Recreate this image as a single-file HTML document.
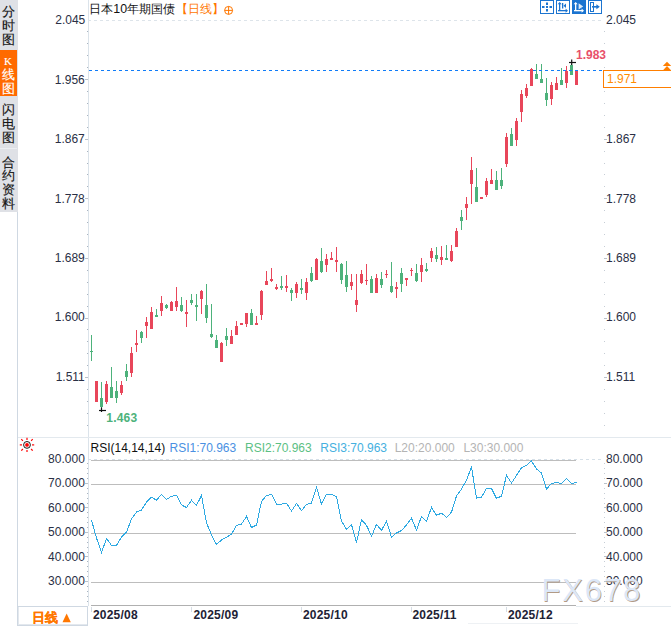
<!DOCTYPE html>
<html><head><meta charset="utf-8">
<style>
html,body{margin:0;padding:0;background:#fff;}
body{width:671px;height:626px;overflow:hidden;position:relative;font-family:"Liberation Sans",sans-serif;}
#side{position:absolute;left:0;top:0;width:17.5px;height:212px;background:#dfe1e6;}
.ch{position:absolute;left:0;width:16px;height:13px;font-size:13px;line-height:13px;text-align:center;-webkit-text-stroke:0.15px currentColor;}
svg{position:absolute;left:0;top:0;}
</style></head>
<body>
<div id="side">
<div style="position:absolute;left:0;top:50px;width:17px;height:46px;background:#ff6a00;"></div>
<div style="position:absolute;left:0;top:148px;width:17px;height:1px;background:#eceef2;"></div>
<span class="ch" style="top:5.25px;color:#151515">分</span>
<span class="ch" style="top:19.00px;color:#151515">时</span>
<span class="ch" style="top:33.40px;color:#151515">图</span>
<span class="ch" style="top:67.80px;color:#fff">线</span>
<span class="ch" style="top:82.00px;color:#fff">图</span>
<span class="ch" style="top:103.25px;color:#151515">闪</span>
<span class="ch" style="top:117.10px;color:#151515">电</span>
<span class="ch" style="top:130.65px;color:#151515">图</span>
<span class="ch" style="top:155.85px;color:#151515">合</span>
<span class="ch" style="top:169.35px;color:#151515">约</span>
<span class="ch" style="top:182.75px;color:#151515">资</span>
<span class="ch" style="top:196.75px;color:#151515">料</span>
<span class="ch" style="top:54.5px;color:#fff;font-family:'Liberation Serif',serif;font-size:11px;">K</span>
</div>
<svg width="671" height="626" viewBox="0 0 671 626" font-family="Liberation Sans, sans-serif">
  <!-- left border of panels -->
  <rect x="17" y="212" width="1" height="414" fill="#cfd8e2"/>
  <rect x="18" y="606" width="1" height="20" fill="#e3e8ee"/>
  <rect x="18" y="624" width="70" height="1" fill="#e3e8ee"/>
  <!-- left axis line -->
  <rect x="88" y="0" width="1" height="606" fill="#dbe3ea"/>
  <!-- main/RSI separator -->
  <rect x="18" y="437" width="653" height="1" fill="#e3e9ee"/>

  <!-- main title -->
  <text x="89.3" y="12.6" font-size="12.4" fill="#111">日本10年期国债</text>
  <text x="175.5" y="13" font-size="12" fill="#ff7700">【日线】</text>
  <g stroke="#ff7700" stroke-width="1" fill="none">
    <circle cx="228.6" cy="10.4" r="4"/>
    <line x1="224.6" y1="10.4" x2="232.6" y2="10.4"/>
    <line x1="228.6" y1="6.4" x2="228.6" y2="14.4"/>
  </g>

  <!-- toolbar icons -->
  <g fill="none" stroke="#1b74d0" stroke-width="1">
    <rect x="540.5" y="0.5" width="13" height="13"/>
    <rect x="556.5" y="0.5" width="13" height="13"/>
    <rect x="588.5" y="0.5" width="13" height="13"/>
  </g>
  <rect x="572" y="0" width="14" height="14" fill="#1b74d0"/>
  <!-- icon1 crosshair -->
  <g fill="#1b74d0">
    <rect x="546" y="2.5" width="2" height="2.5"/>
    <rect x="546" y="9" width="2" height="2.5"/>
    <rect x="542" y="6" width="2.5" height="2"/>
    <rect x="549.5" y="6" width="2.5" height="2"/>
    <rect x="546" y="6" width="2" height="2"/>
  </g>
  <!-- icon2 -->
  <g fill="#1b74d0">
    <rect x="559" y="3" width="1.3" height="8"/>
    <path d="M557.6 4.2 L559.65 2 L561.7 4.2 Z"/>
    <rect x="558" y="10" width="8" height="1.3"/>
    <path d="M565.6 8.6 L568 10.65 L565.6 12.7 Z"/>
    <rect x="562" y="3" width="1.3" height="5.5"/>
    <path d="M566 3.5 L563.5 5.75 L566 8 Z"/>
  </g>
  <!-- icon3 -->
  <g fill="#fff">
    <rect x="575" y="3" width="1.3" height="8"/>
    <path d="M573.6 4.2 L575.65 2 L577.7 4.2 Z"/>
    <rect x="574" y="10" width="8" height="1.3"/>
    <path d="M581.6 8.6 L584 10.65 L581.6 12.7 Z"/>
    <path d="M578.6 3.2 L583.2 6.4 L578.6 9.6 Z" fill-opacity="0.85"/>
  </g>
  <!-- icon4 -->
  <g fill="none" stroke="#1b74d0" stroke-width="1">
    <rect x="590.5" y="2.5" width="3" height="9"/>
  </g>
  <g fill="#1b74d0">
    <rect x="592" y="6" width="5" height="1.6"/>
    <path d="M596.4 4.3 L599.8 6.8 L596.4 9.3 Z"/>
  </g>

  <!-- main chart grid -->
  <line x1="88" y1="20.5" x2="603" y2="20.5" stroke="#dde4ea" stroke-width="1" stroke-dasharray="3,3"/>

  <!-- left axis labels -->
  <g font-size="12" fill="#2a2f45" text-anchor="end" transform="translate(0.8,0)">
    <text x="84.5" y="23.6">2.045</text>
    <text x="84" y="83.8">1.956</text>
    <text x="84" y="143.2">1.867</text>
    <text x="84" y="202.5">1.778</text>
    <text x="84" y="261.9">1.689</text>
    <text x="84" y="321.2">1.600</text>
    <text x="84" y="380.6">1.511</text>
  </g>
  <g font-size="12" fill="#2a2f45">
    <text x="606" y="23.6">2.045</text>
    <text x="606" y="143.2">1.867</text>
    <text x="606" y="202.5">1.778</text>
    <text x="606" y="261.9">1.689</text>
    <text x="606" y="321.2">1.600</text>
    <text x="606" y="380.6">1.511</text>
  </g>
  <rect x="87" y="31" width="1" height="1" fill="#a9b3bf"/>
<rect x="604" y="31" width="1" height="1" fill="#c6cdd5"/>
<rect x="87" y="43" width="1" height="1" fill="#a9b3bf"/>
<rect x="604" y="43" width="1" height="1" fill="#c6cdd5"/>
<rect x="87" y="55" width="1" height="1" fill="#a9b3bf"/>
<rect x="604" y="55" width="1" height="1" fill="#c6cdd5"/>
<rect x="87" y="67" width="1" height="1" fill="#a9b3bf"/>
<rect x="604" y="67" width="1" height="1" fill="#c6cdd5"/>
<rect x="85" y="79" width="3" height="1" fill="#b9c1c9"/>
<rect x="604" y="79" width="3" height="1" fill="#b9c1c9"/>
<rect x="87" y="91" width="1" height="1" fill="#a9b3bf"/>
<rect x="604" y="91" width="1" height="1" fill="#c6cdd5"/>
<rect x="87" y="103" width="1" height="1" fill="#a9b3bf"/>
<rect x="604" y="103" width="1" height="1" fill="#c6cdd5"/>
<rect x="87" y="115" width="1" height="1" fill="#a9b3bf"/>
<rect x="604" y="115" width="1" height="1" fill="#c6cdd5"/>
<rect x="87" y="127" width="1" height="1" fill="#a9b3bf"/>
<rect x="604" y="127" width="1" height="1" fill="#c6cdd5"/>
<rect x="85" y="139" width="3" height="1" fill="#b9c1c9"/>
<rect x="604" y="139" width="3" height="1" fill="#b9c1c9"/>
<rect x="87" y="151" width="1" height="1" fill="#a9b3bf"/>
<rect x="604" y="151" width="1" height="1" fill="#c6cdd5"/>
<rect x="87" y="163" width="1" height="1" fill="#a9b3bf"/>
<rect x="604" y="163" width="1" height="1" fill="#c6cdd5"/>
<rect x="87" y="174" width="1" height="1" fill="#a9b3bf"/>
<rect x="604" y="174" width="1" height="1" fill="#c6cdd5"/>
<rect x="87" y="186" width="1" height="1" fill="#a9b3bf"/>
<rect x="604" y="186" width="1" height="1" fill="#c6cdd5"/>
<rect x="85" y="198" width="3" height="1" fill="#b9c1c9"/>
<rect x="604" y="198" width="3" height="1" fill="#b9c1c9"/>
<rect x="87" y="210" width="1" height="1" fill="#a9b3bf"/>
<rect x="604" y="210" width="1" height="1" fill="#c6cdd5"/>
<rect x="87" y="222" width="1" height="1" fill="#a9b3bf"/>
<rect x="604" y="222" width="1" height="1" fill="#c6cdd5"/>
<rect x="87" y="234" width="1" height="1" fill="#a9b3bf"/>
<rect x="604" y="234" width="1" height="1" fill="#c6cdd5"/>
<rect x="87" y="246" width="1" height="1" fill="#a9b3bf"/>
<rect x="604" y="246" width="1" height="1" fill="#c6cdd5"/>
<rect x="85" y="258" width="3" height="1" fill="#b9c1c9"/>
<rect x="604" y="258" width="3" height="1" fill="#b9c1c9"/>
<rect x="87" y="270" width="1" height="1" fill="#a9b3bf"/>
<rect x="604" y="270" width="1" height="1" fill="#c6cdd5"/>
<rect x="87" y="282" width="1" height="1" fill="#a9b3bf"/>
<rect x="604" y="282" width="1" height="1" fill="#c6cdd5"/>
<rect x="87" y="294" width="1" height="1" fill="#a9b3bf"/>
<rect x="604" y="294" width="1" height="1" fill="#c6cdd5"/>
<rect x="87" y="306" width="1" height="1" fill="#a9b3bf"/>
<rect x="604" y="306" width="1" height="1" fill="#c6cdd5"/>
<rect x="85" y="318" width="3" height="1" fill="#b9c1c9"/>
<rect x="604" y="318" width="3" height="1" fill="#b9c1c9"/>
<rect x="87" y="329" width="1" height="1" fill="#a9b3bf"/>
<rect x="604" y="329" width="1" height="1" fill="#c6cdd5"/>
<rect x="87" y="341" width="1" height="1" fill="#a9b3bf"/>
<rect x="604" y="341" width="1" height="1" fill="#c6cdd5"/>
<rect x="87" y="353" width="1" height="1" fill="#a9b3bf"/>
<rect x="604" y="353" width="1" height="1" fill="#c6cdd5"/>
<rect x="87" y="365" width="1" height="1" fill="#a9b3bf"/>
<rect x="604" y="365" width="1" height="1" fill="#c6cdd5"/>
<rect x="85" y="377" width="3" height="1" fill="#b9c1c9"/>
<rect x="604" y="377" width="3" height="1" fill="#b9c1c9"/>
<rect x="87" y="389" width="1" height="1" fill="#a9b3bf"/>
<rect x="604" y="389" width="1" height="1" fill="#c6cdd5"/>
<rect x="87" y="401" width="1" height="1" fill="#a9b3bf"/>
<rect x="604" y="401" width="1" height="1" fill="#c6cdd5"/>
<rect x="87" y="413" width="1" height="1" fill="#a9b3bf"/>
<rect x="604" y="413" width="1" height="1" fill="#c6cdd5"/>
<rect x="87" y="425" width="1" height="1" fill="#a9b3bf"/>
<rect x="604" y="425" width="1" height="1" fill="#c6cdd5"/>

  <!-- candles -->
  <g shape-rendering="crispEdges">
<rect x="91" y="335" width="1" height="26" fill="#4db27b"/>
<rect x="90" y="351" width="3" height="1" fill="#4db27b"/>
<rect x="96" y="381" width="1" height="21" fill="#e8465a"/>
<rect x="95" y="381" width="3" height="21" fill="#e8465a"/>
<rect x="101" y="382" width="1" height="26" fill="#4db27b"/>
<rect x="100" y="398" width="3" height="9" fill="#4db27b"/>
<rect x="106" y="381" width="1" height="23" fill="#e8465a"/>
<rect x="105" y="384" width="3" height="18" fill="#e8465a"/>
<rect x="111" y="367" width="1" height="31" fill="#4db27b"/>
<rect x="110" y="387" width="3" height="11" fill="#4db27b"/>
<rect x="116" y="381" width="1" height="22" fill="#4db27b"/>
<rect x="115" y="391" width="3" height="7" fill="#4db27b"/>
<rect x="121" y="381" width="1" height="14" fill="#e8465a"/>
<rect x="120" y="385" width="3" height="8" fill="#e8465a"/>
<rect x="126" y="364" width="1" height="17" fill="#4db27b"/>
<rect x="125" y="371" width="3" height="6" fill="#4db27b"/>
<rect x="131" y="347" width="1" height="30" fill="#e8465a"/>
<rect x="130" y="353" width="3" height="20" fill="#e8465a"/>
<rect x="136" y="330" width="1" height="22" fill="#e8465a"/>
<rect x="135" y="343" width="3" height="2" fill="#e8465a"/>
<rect x="141" y="331" width="1" height="12" fill="#4db27b"/>
<rect x="140" y="332" width="3" height="6" fill="#4db27b"/>
<rect x="146" y="317" width="1" height="21" fill="#e8465a"/>
<rect x="145" y="322" width="3" height="4" fill="#e8465a"/>
<rect x="151" y="307" width="1" height="22" fill="#e8465a"/>
<rect x="150" y="312" width="3" height="17" fill="#e8465a"/>
<rect x="156" y="309" width="1" height="8" fill="#4db27b"/>
<rect x="155" y="315" width="3" height="2" fill="#4db27b"/>
<rect x="161" y="296" width="1" height="20" fill="#e8465a"/>
<rect x="160" y="303" width="3" height="8" fill="#e8465a"/>
<rect x="166" y="304" width="1" height="5" fill="#4db27b"/>
<rect x="165" y="305" width="3" height="3" fill="#4db27b"/>
<rect x="171" y="301" width="1" height="10" fill="#e8465a"/>
<rect x="170" y="302" width="3" height="9" fill="#e8465a"/>
<rect x="176" y="287" width="1" height="24" fill="#e8465a"/>
<rect x="175" y="301" width="3" height="6" fill="#e8465a"/>
<rect x="181" y="297" width="1" height="15" fill="#4db27b"/>
<rect x="180" y="305" width="3" height="6" fill="#4db27b"/>
<rect x="186" y="300" width="1" height="27" fill="#e8465a"/>
<rect x="185" y="312" width="3" height="2" fill="#e8465a"/>
<rect x="191" y="294" width="1" height="11" fill="#4db27b"/>
<rect x="190" y="300" width="3" height="3" fill="#4db27b"/>
<rect x="196" y="294" width="1" height="27" fill="#4db27b"/>
<rect x="195" y="305" width="3" height="2" fill="#4db27b"/>
<rect x="201" y="290" width="1" height="24" fill="#e8465a"/>
<rect x="200" y="291" width="3" height="8" fill="#e8465a"/>
<rect x="206" y="284" width="1" height="39" fill="#4db27b"/>
<rect x="205" y="305" width="3" height="13" fill="#4db27b"/>
<rect x="211" y="304" width="1" height="34" fill="#4db27b"/>
<rect x="210" y="334" width="3" height="3" fill="#4db27b"/>
<rect x="216" y="335" width="1" height="13" fill="#4db27b"/>
<rect x="215" y="340" width="3" height="8" fill="#4db27b"/>
<rect x="221" y="342" width="1" height="20" fill="#e8465a"/>
<rect x="220" y="343" width="3" height="19" fill="#e8465a"/>
<rect x="226" y="328" width="1" height="18" fill="#4db27b"/>
<rect x="225" y="336" width="3" height="4" fill="#4db27b"/>
<rect x="231" y="330" width="1" height="14" fill="#e8465a"/>
<rect x="230" y="336" width="3" height="8" fill="#e8465a"/>
<rect x="236" y="321" width="1" height="14" fill="#e8465a"/>
<rect x="235" y="326" width="3" height="9" fill="#e8465a"/>
<rect x="241" y="323" width="1" height="2" fill="#e8465a"/>
<rect x="240" y="323" width="3" height="2" fill="#e8465a"/>
<rect x="246" y="313" width="1" height="14" fill="#e8465a"/>
<rect x="245" y="313" width="3" height="11" fill="#e8465a"/>
<rect x="251" y="309" width="1" height="16" fill="#4db27b"/>
<rect x="250" y="313" width="3" height="12" fill="#4db27b"/>
<rect x="256" y="316" width="1" height="9" fill="#e8465a"/>
<rect x="255" y="323" width="3" height="2" fill="#e8465a"/>
<rect x="261" y="290" width="1" height="30" fill="#e8465a"/>
<rect x="260" y="291" width="3" height="24" fill="#e8465a"/>
<rect x="266" y="271" width="1" height="14" fill="#e8465a"/>
<rect x="265" y="281" width="3" height="4" fill="#e8465a"/>
<rect x="271" y="268" width="1" height="14" fill="#e8465a"/>
<rect x="270" y="279" width="3" height="2" fill="#e8465a"/>
<rect x="276" y="284" width="1" height="6" fill="#e8465a"/>
<rect x="275" y="287" width="3" height="2" fill="#e8465a"/>
<rect x="281" y="276" width="1" height="14" fill="#4db27b"/>
<rect x="280" y="286" width="3" height="2" fill="#4db27b"/>
<rect x="286" y="275" width="1" height="17" fill="#e8465a"/>
<rect x="285" y="286" width="3" height="2" fill="#e8465a"/>
<rect x="291" y="288" width="1" height="13" fill="#4db27b"/>
<rect x="290" y="290" width="3" height="3" fill="#4db27b"/>
<rect x="296" y="282" width="1" height="16" fill="#e8465a"/>
<rect x="295" y="284" width="3" height="9" fill="#e8465a"/>
<rect x="301" y="279" width="1" height="15" fill="#4db27b"/>
<rect x="300" y="288" width="3" height="2" fill="#4db27b"/>
<rect x="306" y="278" width="1" height="22" fill="#e8465a"/>
<rect x="305" y="282" width="3" height="11" fill="#e8465a"/>
<rect x="311" y="267" width="1" height="15" fill="#4db27b"/>
<rect x="310" y="273" width="3" height="8" fill="#4db27b"/>
<rect x="316" y="258" width="1" height="22" fill="#e8465a"/>
<rect x="315" y="259" width="3" height="21" fill="#e8465a"/>
<rect x="321" y="248" width="1" height="25" fill="#4db27b"/>
<rect x="320" y="261" width="3" height="11" fill="#4db27b"/>
<rect x="326" y="254" width="1" height="18" fill="#e8465a"/>
<rect x="325" y="259" width="3" height="6" fill="#e8465a"/>
<rect x="331" y="252" width="1" height="8" fill="#e8465a"/>
<rect x="330" y="258" width="3" height="2" fill="#e8465a"/>
<rect x="336" y="247" width="1" height="25" fill="#e8465a"/>
<rect x="335" y="260" width="3" height="2" fill="#e8465a"/>
<rect x="341" y="263" width="1" height="21" fill="#4db27b"/>
<rect x="340" y="264" width="3" height="16" fill="#4db27b"/>
<rect x="346" y="261" width="1" height="31" fill="#4db27b"/>
<rect x="345" y="275" width="3" height="12" fill="#4db27b"/>
<rect x="351" y="274" width="1" height="16" fill="#e8465a"/>
<rect x="350" y="282" width="3" height="4" fill="#e8465a"/>
<rect x="356" y="274" width="1" height="38" fill="#e8465a"/>
<rect x="355" y="300" width="3" height="5" fill="#e8465a"/>
<rect x="361" y="270" width="1" height="14" fill="#e8465a"/>
<rect x="360" y="274" width="3" height="9" fill="#e8465a"/>
<rect x="366" y="264" width="1" height="21" fill="#e8465a"/>
<rect x="365" y="280" width="3" height="1" fill="#e8465a"/>
<rect x="371" y="276" width="1" height="17" fill="#4db27b"/>
<rect x="370" y="279" width="3" height="14" fill="#4db27b"/>
<rect x="376" y="274" width="1" height="19" fill="#e8465a"/>
<rect x="375" y="278" width="3" height="15" fill="#e8465a"/>
<rect x="381" y="272" width="1" height="16" fill="#4db27b"/>
<rect x="380" y="279" width="3" height="6" fill="#4db27b"/>
<rect x="386" y="270" width="1" height="8" fill="#e8465a"/>
<rect x="385" y="274" width="3" height="1" fill="#e8465a"/>
<rect x="391" y="262" width="1" height="31" fill="#4db27b"/>
<rect x="390" y="286" width="3" height="6" fill="#4db27b"/>
<rect x="396" y="282" width="1" height="16" fill="#e8465a"/>
<rect x="395" y="287" width="3" height="2" fill="#e8465a"/>
<rect x="401" y="268" width="1" height="24" fill="#4db27b"/>
<rect x="400" y="273" width="3" height="11" fill="#4db27b"/>
<rect x="406" y="278" width="1" height="8" fill="#e8465a"/>
<rect x="405" y="278" width="3" height="2" fill="#e8465a"/>
<rect x="411" y="268" width="1" height="8" fill="#e8465a"/>
<rect x="410" y="270" width="3" height="1" fill="#e8465a"/>
<rect x="416" y="264" width="1" height="18" fill="#4db27b"/>
<rect x="415" y="273" width="3" height="8" fill="#4db27b"/>
<rect x="421" y="258" width="1" height="24" fill="#e8465a"/>
<rect x="420" y="265" width="3" height="7" fill="#e8465a"/>
<rect x="426" y="263" width="1" height="9" fill="#4db27b"/>
<rect x="425" y="269" width="3" height="2" fill="#4db27b"/>
<rect x="431" y="248" width="1" height="14" fill="#e8465a"/>
<rect x="430" y="251" width="3" height="7" fill="#e8465a"/>
<rect x="436" y="247" width="1" height="15" fill="#4db27b"/>
<rect x="435" y="255" width="3" height="4" fill="#4db27b"/>
<rect x="441" y="246" width="1" height="19" fill="#e8465a"/>
<rect x="440" y="257" width="3" height="3" fill="#e8465a"/>
<rect x="446" y="245" width="1" height="15" fill="#4db27b"/>
<rect x="445" y="258" width="3" height="2" fill="#4db27b"/>
<rect x="451" y="245" width="1" height="17" fill="#e8465a"/>
<rect x="450" y="251" width="3" height="10" fill="#e8465a"/>
<rect x="456" y="228" width="1" height="19" fill="#e8465a"/>
<rect x="455" y="231" width="3" height="16" fill="#e8465a"/>
<rect x="461" y="210" width="1" height="20" fill="#4db27b"/>
<rect x="460" y="217" width="3" height="4" fill="#4db27b"/>
<rect x="466" y="197" width="1" height="23" fill="#e8465a"/>
<rect x="465" y="204" width="3" height="4" fill="#e8465a"/>
<rect x="471" y="157" width="1" height="47" fill="#e8465a"/>
<rect x="470" y="170" width="3" height="14" fill="#e8465a"/>
<rect x="476" y="168" width="1" height="34" fill="#4db27b"/>
<rect x="475" y="187" width="3" height="15" fill="#4db27b"/>
<rect x="481" y="197" width="1" height="2" fill="#e8465a"/>
<rect x="480" y="197" width="3" height="2" fill="#e8465a"/>
<rect x="486" y="178" width="1" height="19" fill="#e8465a"/>
<rect x="485" y="181" width="3" height="14" fill="#e8465a"/>
<rect x="491" y="169" width="1" height="15" fill="#e8465a"/>
<rect x="490" y="180" width="3" height="4" fill="#e8465a"/>
<rect x="496" y="171" width="1" height="19" fill="#4db27b"/>
<rect x="495" y="180" width="3" height="10" fill="#4db27b"/>
<rect x="501" y="168" width="1" height="21" fill="#4db27b"/>
<rect x="500" y="180" width="3" height="6" fill="#4db27b"/>
<rect x="506" y="133" width="1" height="34" fill="#e8465a"/>
<rect x="505" y="137" width="3" height="27" fill="#e8465a"/>
<rect x="511" y="128" width="1" height="18" fill="#4db27b"/>
<rect x="510" y="134" width="3" height="12" fill="#4db27b"/>
<rect x="516" y="118" width="1" height="28" fill="#e8465a"/>
<rect x="515" y="121" width="3" height="19" fill="#e8465a"/>
<rect x="521" y="90" width="1" height="32" fill="#e8465a"/>
<rect x="520" y="94" width="3" height="18" fill="#e8465a"/>
<rect x="526" y="84" width="1" height="14" fill="#e8465a"/>
<rect x="525" y="88" width="3" height="8" fill="#e8465a"/>
<rect x="531" y="68" width="1" height="18" fill="#e8465a"/>
<rect x="530" y="69" width="3" height="17" fill="#e8465a"/>
<rect x="536" y="64" width="1" height="15" fill="#4db27b"/>
<rect x="535" y="74" width="3" height="5" fill="#4db27b"/>
<rect x="541" y="64" width="1" height="19" fill="#4db27b"/>
<rect x="540" y="79" width="3" height="4" fill="#4db27b"/>
<rect x="546" y="78" width="1" height="28" fill="#4db27b"/>
<rect x="545" y="93" width="3" height="7" fill="#4db27b"/>
<rect x="551" y="82" width="1" height="23" fill="#e8465a"/>
<rect x="550" y="85" width="3" height="14" fill="#e8465a"/>
<rect x="556" y="77" width="1" height="13" fill="#e8465a"/>
<rect x="555" y="83" width="3" height="7" fill="#e8465a"/>
<rect x="561" y="68" width="1" height="17" fill="#4db27b"/>
<rect x="560" y="80" width="3" height="5" fill="#4db27b"/>
<rect x="566" y="66" width="1" height="22" fill="#e8465a"/>
<rect x="565" y="71" width="3" height="12" fill="#e8465a"/>
<rect x="571" y="64" width="1" height="11" fill="#4db27b"/>
<rect x="570" y="65" width="3" height="10" fill="#4db27b"/>
<rect x="576" y="71" width="1" height="14" fill="#e8465a"/>
<rect x="575" y="71" width="3" height="14" fill="#e8465a"/>
  </g>

  <!-- current price line -->
  <line x1="89" y1="70.5" x2="603" y2="70.5" stroke="#107cf8" stroke-width="1.2" stroke-dasharray="3,3"/>

  <!-- high/low markers -->
  <g stroke="#111" stroke-width="1.2">
    <line x1="569" y1="62.5" x2="576" y2="62.5"/>
    <line x1="571.7" y1="59.5" x2="571.7" y2="65"/>
    <line x1="99" y1="410.5" x2="106" y2="410.5"/>
    <line x1="101.5" y1="407.5" x2="101.5" y2="412"/>
  </g>
  <text x="576" y="59" font-size="12" font-weight="bold" fill="#e8506a">1.983</text>
  <text x="106.3" y="421.8" font-size="12" font-weight="bold" letter-spacing="0.2" fill="#4db27b">1.463</text>

  <!-- price box -->
  <rect x="603.5" y="70.5" width="70" height="17" fill="#fff" stroke="#ff7f00" stroke-width="1"/>
  <text x="607" y="83" font-size="12" fill="#ff8c00">1.971</text>
  <path d="M662.8 70.4 L671.2 70.4 L667 66 Z" fill="#ff7f00"/>
  <path d="M662.8 65.9 L671.2 65.9 L667 61.7 Z" fill="#ff7f00"/>

  <!-- RSI panel -->
  <g transform="translate(27,444.9)">
    <g stroke="#ff0000" stroke-width="1.2" stroke-linecap="butt">
      <line x1="-7.2" y1="0" x2="-5" y2="0"/><line x1="5" y1="0" x2="7.2" y2="0"/>
      <line x1="0" y1="-7.2" x2="0" y2="-5"/><line x1="0" y1="5" x2="0" y2="7.2"/>
      <line x1="-5.7" y1="-5.7" x2="-4.1" y2="-4.1"/><line x1="5.7" y1="-5.7" x2="4.1" y2="-4.1"/>
      <line x1="-5.7" y1="5.7" x2="-4.1" y2="4.1"/><line x1="5.7" y1="5.7" x2="4.1" y2="4.1"/>
    </g>
    <circle r="3.4" fill="none" stroke="#000" stroke-width="0.9"/>
    <circle r="1.9" fill="#ff0000"/>
  </g>
  <text x="90.5" y="451.8" font-size="12" fill="#111">RSI(14,14,14)</text>
  <text x="169.5" y="451.8" font-size="12" fill="#4a90e2">RSI1:70.963</text>
  <text x="245" y="451.8" font-size="12" fill="#5cc084">RSI2:70.963</text>
  <text x="320.3" y="451.8" font-size="12" fill="#45b0e0">RSI3:70.963</text>
  <text x="394.7" y="451.8" font-size="12" fill="#b4b4b4">L20:20.000</text>
  <text x="463.4" y="451.8" font-size="12" fill="#b4b4b4">L30:30.000</text>

  <line x1="88" y1="459.5" x2="601" y2="459.5" stroke="#d6e0e8" stroke-width="1" stroke-dasharray="3,3"/>
  <g fill="#bdbdbd">
    <rect x="91" y="460" width="485" height="1"/>
    <rect x="91" y="484" width="485" height="1"/>
    <rect x="91" y="533" width="485" height="1"/>
    <rect x="91" y="582" width="485" height="1"/>
  </g>
  <g font-size="12" fill="#2a2f45" text-anchor="end" transform="translate(0.8,0)">
    <text x="84" y="462.5">80.000</text>
    <text x="84" y="487">70.000</text>
    <text x="84" y="511.5">60.000</text>
    <text x="84" y="536">50.000</text>
    <text x="84" y="560.5">40.000</text>
    <text x="84" y="585">30.000</text>
  </g>
  <g font-size="12" fill="#2a2f45">
    <text x="606" y="462.5">80.000</text>
    <text x="606" y="487">70.000</text>
    <text x="606" y="511.5">60.000</text>
    <text x="606" y="536">50.000</text>
    <text x="606" y="560.5">40.000</text>
    <text x="606" y="585">30.000</text>
  </g>
  <rect x="87" y="463" width="1" height="1" fill="#a9b3bf"/>
<rect x="604" y="463" width="1" height="1" fill="#c6cdd5"/>
<rect x="87" y="468" width="1" height="1" fill="#a9b3bf"/>
<rect x="604" y="468" width="1" height="1" fill="#c6cdd5"/>
<rect x="87" y="473" width="1" height="1" fill="#a9b3bf"/>
<rect x="604" y="473" width="1" height="1" fill="#c6cdd5"/>
<rect x="87" y="478" width="1" height="1" fill="#a9b3bf"/>
<rect x="604" y="478" width="1" height="1" fill="#c6cdd5"/>
<rect x="85" y="483" width="3" height="1" fill="#b9c1c9"/>
<rect x="604" y="483" width="3" height="1" fill="#b9c1c9"/>
<rect x="87" y="488" width="1" height="1" fill="#a9b3bf"/>
<rect x="604" y="488" width="1" height="1" fill="#c6cdd5"/>
<rect x="87" y="493" width="1" height="1" fill="#a9b3bf"/>
<rect x="604" y="493" width="1" height="1" fill="#c6cdd5"/>
<rect x="87" y="498" width="1" height="1" fill="#a9b3bf"/>
<rect x="604" y="498" width="1" height="1" fill="#c6cdd5"/>
<rect x="87" y="503" width="1" height="1" fill="#a9b3bf"/>
<rect x="604" y="503" width="1" height="1" fill="#c6cdd5"/>
<rect x="85" y="507" width="3" height="1" fill="#b9c1c9"/>
<rect x="604" y="507" width="3" height="1" fill="#b9c1c9"/>
<rect x="87" y="512" width="1" height="1" fill="#a9b3bf"/>
<rect x="604" y="512" width="1" height="1" fill="#c6cdd5"/>
<rect x="87" y="517" width="1" height="1" fill="#a9b3bf"/>
<rect x="604" y="517" width="1" height="1" fill="#c6cdd5"/>
<rect x="87" y="522" width="1" height="1" fill="#a9b3bf"/>
<rect x="604" y="522" width="1" height="1" fill="#c6cdd5"/>
<rect x="87" y="527" width="1" height="1" fill="#a9b3bf"/>
<rect x="604" y="527" width="1" height="1" fill="#c6cdd5"/>
<rect x="85" y="532" width="3" height="1" fill="#b9c1c9"/>
<rect x="604" y="532" width="3" height="1" fill="#b9c1c9"/>
<rect x="87" y="537" width="1" height="1" fill="#a9b3bf"/>
<rect x="604" y="537" width="1" height="1" fill="#c6cdd5"/>
<rect x="87" y="542" width="1" height="1" fill="#a9b3bf"/>
<rect x="604" y="542" width="1" height="1" fill="#c6cdd5"/>
<rect x="87" y="547" width="1" height="1" fill="#a9b3bf"/>
<rect x="604" y="547" width="1" height="1" fill="#c6cdd5"/>
<rect x="87" y="552" width="1" height="1" fill="#a9b3bf"/>
<rect x="604" y="552" width="1" height="1" fill="#c6cdd5"/>
<rect x="85" y="556" width="3" height="1" fill="#b9c1c9"/>
<rect x="604" y="556" width="3" height="1" fill="#b9c1c9"/>
<rect x="87" y="561" width="1" height="1" fill="#a9b3bf"/>
<rect x="604" y="561" width="1" height="1" fill="#c6cdd5"/>
<rect x="87" y="566" width="1" height="1" fill="#a9b3bf"/>
<rect x="604" y="566" width="1" height="1" fill="#c6cdd5"/>
<rect x="87" y="571" width="1" height="1" fill="#a9b3bf"/>
<rect x="604" y="571" width="1" height="1" fill="#c6cdd5"/>
<rect x="87" y="576" width="1" height="1" fill="#a9b3bf"/>
<rect x="604" y="576" width="1" height="1" fill="#c6cdd5"/>
<rect x="85" y="581" width="3" height="1" fill="#b9c1c9"/>
<rect x="604" y="581" width="3" height="1" fill="#b9c1c9"/>
<rect x="87" y="586" width="1" height="1" fill="#a9b3bf"/>
<rect x="604" y="586" width="1" height="1" fill="#c6cdd5"/>
<rect x="87" y="591" width="1" height="1" fill="#a9b3bf"/>
<rect x="604" y="591" width="1" height="1" fill="#c6cdd5"/>
<rect x="87" y="596" width="1" height="1" fill="#a9b3bf"/>
<rect x="604" y="596" width="1" height="1" fill="#c6cdd5"/>
<rect x="87" y="601" width="1" height="1" fill="#a9b3bf"/>
<rect x="604" y="601" width="1" height="1" fill="#c6cdd5"/>
  <polyline points="91.5,520.0 96.5,538.0 101.5,552.5 106.5,538.5 111.5,545.4 116.5,545.4 121.5,537.0 126.5,532.0 131.5,519.0 136.5,512.0 141.5,510.0 146.5,502.0 151.5,497.2 156.5,500.2 161.5,494.3 166.5,499.4 171.5,496.3 176.5,495.3 181.5,504.9 186.5,507.5 191.5,500.2 196.5,505.3 201.5,495.6 206.5,522.8 211.5,535.0 216.5,544.5 221.5,540.0 226.5,537.2 231.5,534.3 236.5,525.3 241.5,524.1 246.5,516.4 251.5,527.5 256.5,525.0 261.5,501.3 266.5,495.5 271.5,494.3 276.5,504.2 281.5,504.2 286.5,503.2 291.5,511.1 296.5,503.5 301.5,510.6 306.5,504.5 311.5,503.0 316.5,487.2 321.5,504.2 326.5,494.3 331.5,494.3 336.5,496.8 341.5,521.0 346.5,529.4 351.5,524.7 356.5,542.5 361.5,519.6 366.5,525.3 371.5,536.2 376.5,524.4 381.5,530.4 386.5,521.1 391.5,537.2 396.5,533.0 401.5,530.5 406.5,525.0 411.5,518.3 416.5,530.1 421.5,516.4 426.5,521.2 431.5,507.4 436.5,515.3 441.5,513.1 446.5,517.3 451.5,512.2 456.5,495.9 461.5,489.0 466.5,480.0 471.5,467.1 476.5,498.2 481.5,497.1 486.5,488.5 491.5,488.5 496.5,498.4 501.5,496.1 506.5,475.4 511.5,483.1 516.5,475.4 521.5,467.8 526.5,465.2 531.5,461.0 536.5,469.0 541.5,473.0 546.5,489.0 551.5,483.6 556.5,482.2 561.5,483.6 566.5,478.4 571.5,483.6 576.5,482.2" fill="none" stroke="#2ea9e2" stroke-width="1" stroke-linejoin="miter" shape-rendering="crispEdges"/>

  <!-- bottom axis -->
  <rect x="91" y="605" width="485" height="1" fill="#b0b0b0"/>
  <rect x="576" y="606" width="95" height="1" fill="#e3e9ee"/>
  <rect x="18" y="606" width="70" height="1" fill="#cfd8e2"/>
  <rect x="18" y="625" width="70" height="1" fill="#cfd8e2"/>
  <rect x="87" y="606" width="1" height="20" fill="#cfd8e2"/>
  <rect x="468" y="623" width="110" height="1" fill="#eef1f4"/>
  <text x="32" y="622" font-size="13" font-weight="bold" fill="#ff7700" stroke="#ff7700" stroke-width="0.2">日线</text>
  <path d="M62.5 622.3 L70.8 622.3 L66.65 613.5 Z" fill="#ff7700"/>
  <g fill="#d6dde4">
    <rect x="91" y="607" width="1" height="5"/>
    <rect x="191" y="607" width="1" height="5"/>
    <rect x="301" y="607" width="1" height="5"/>
    <rect x="411" y="607" width="1" height="5"/>
    <rect x="506" y="607" width="1" height="5"/>
  </g>
  <g font-size="12" font-weight="bold" fill="#1d2235" letter-spacing="0.2">
    <text x="93" y="619">2025/08</text>
    <text x="193.5" y="619">2025/09</text>
    <text x="303" y="619">2025/10</text>
    <text x="412.5" y="619">2025/11</text>
    <text x="508" y="619">2025/12</text>
  </g>

  <!-- watermark -->
  <text x="542.2" y="601.5" font-size="31" letter-spacing="1.9" fill="#a88c74" fill-opacity="0.9">FX678</text>
  <text x="541.4" y="600.6" font-size="31" letter-spacing="1.9" fill="#dce7f7">FX678</text>
</svg>
</body></html>
